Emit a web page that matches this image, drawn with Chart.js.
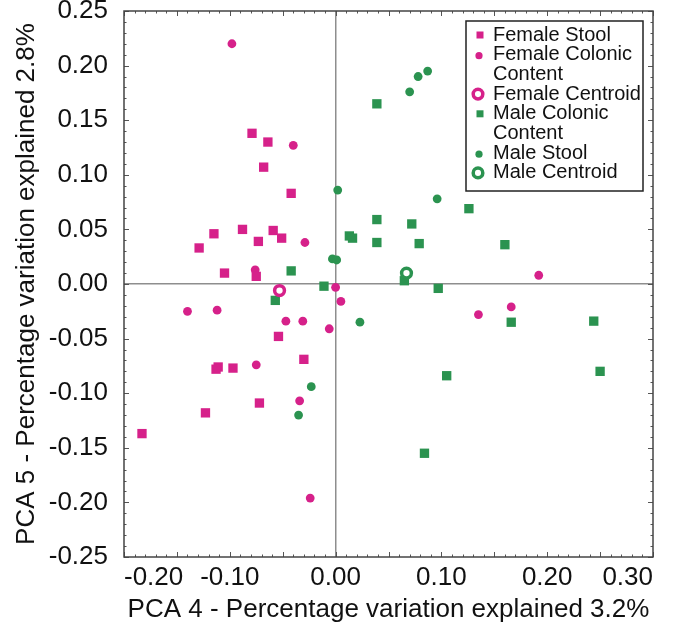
<!DOCTYPE html>
<html>
<head>
<meta charset="utf-8">
<title>PCA 4 vs PCA 5</title>
<script src="https://cdn.jsdelivr.net/npm/chart.js@4.4.1/dist/chart.umd.min.js"></script>
<style>
  body { margin: 0; background: #fff; }
  canvas { display: block; }
</style>
</head>
<body>
<canvas id="pcaChart" width="684" height="637"></canvas>
<script>
// Points, [PCA 4, PCA 5]
const femaleStool = [
  [-0.079, 0.138], [-0.064, 0.130], [-0.068, 0.107], [-0.042, 0.083],
  [-0.088, 0.050], [-0.115, 0.046], [-0.059, 0.049], [-0.051, 0.042],
  [-0.073, 0.039], [-0.129, 0.033], [-0.105, 0.010], [-0.075, 0.007],
  [-0.054, -0.048], [-0.030, -0.069], [-0.111, -0.076], [-0.113, -0.078],
  [-0.097, -0.077], [-0.072, -0.109], [-0.123, -0.118], [-0.183, -0.137]
];
const femaleColonic = [
  [-0.098, 0.220], [-0.040, 0.127], [-0.029, 0.038], [-0.076, 0.013],
  [0.000, -0.003], [0.005, -0.016], [-0.140, -0.025], [-0.112, -0.024],
  [-0.047, -0.034], [-0.031, -0.034], [-0.006, -0.041], [-0.075, -0.074],
  [-0.034, -0.107], [-0.024, -0.196], [0.192, 0.008], [0.135, -0.028],
  [0.166, -0.021]
];
const femaleCentroid = [[-0.053, -0.006]];
const maleColonic = [
  [0.039, 0.165], [0.126, 0.069], [0.039, 0.059], [0.072, 0.055],
  [0.013, 0.044], [0.016, 0.042], [0.039, 0.038], [0.079, 0.037],
  [0.160, 0.036], [0.065, 0.003], [0.097, -0.004], [-0.042, 0.012],
  [-0.011, -0.002], [-0.057, -0.015], [0.166, -0.035], [0.244, -0.034],
  [0.250, -0.080], [0.105, -0.084], [0.084, -0.155]
];
const maleStool = [
  [0.087, 0.195], [0.078, 0.190], [0.070, 0.176], [0.002, 0.086],
  [0.096, 0.078], [-0.003, 0.023], [0.001, 0.022], [0.023, -0.035],
  [-0.023, -0.094], [-0.035, -0.120]
];
const maleCentroid = [[0.067, 0.010]];

const xTicks = [-0.20, -0.10, 0.00, 0.10, 0.20, 0.30];
const yTicks = [-0.25, -0.20, -0.15, -0.10, -0.05, 0.00, 0.05, 0.10, 0.15, 0.20, 0.25];

const MAGENTA = '#d6218a';
const GREEN = '#2b9350';
const FONT = "'Liberation Sans', Arial, sans-serif";

function pts(arr) {
    return arr.map(p => ({ x: p[0], y: p[1] }));
}

function squares(label, arr, color) {
    return { label: label, data: pts(arr), pointStyle: 'rect', pointRadius: 6.6,
        backgroundColor: color, borderColor: color, borderWidth: 0, order: 2 };
}
function dots(label, arr, color) {
    return { label: label, data: pts(arr), pointStyle: 'circle', pointRadius: 4.4,
        backgroundColor: color, borderColor: color, borderWidth: 0, order: 2 };
}
function ring(label, arr, color) {
    return { label: label, data: pts(arr), pointStyle: 'circle', pointRadius: 4.9,
        backgroundColor: '#fff', borderColor: color, borderWidth: 3.5, order: 0 };
}

// frame plus small inward tick marks on all four sides
const framePlugin = {
    id: 'frame',
    afterDatasetsDraw(chart) {
        const { ctx, chartArea: a, scales: { x, y } } = chart;
        ctx.save();
        ctx.strokeStyle = '#555';
        ctx.lineWidth = 1;
        ctx.beginPath();
        for (let i = -20; i <= 30; i++) {
            const px = Math.round(x.getPixelForValue(i / 100)) + 0.5;
            const len = i % 5 === 0 ? 5 : 2.5;
            ctx.moveTo(px, a.bottom); ctx.lineTo(px, a.bottom - len);
            ctx.moveTo(px, a.top); ctx.lineTo(px, a.top + len);
        }
        for (let i = -25; i <= 25; i++) {
            const py = Math.round(y.getPixelForValue(i / 100)) + 0.5;
            const len = i % 5 === 0 ? 5 : 2.5;
            ctx.moveTo(a.left, py); ctx.lineTo(a.left + len, py);
            ctx.moveTo(a.right, py); ctx.lineTo(a.right - len, py);
        }
        ctx.stroke();
        ctx.strokeStyle = '#444';
        ctx.lineWidth = 1.5;
        ctx.strokeRect(a.left, a.top, a.right - a.left, a.bottom - a.top);
        ctx.restore();
    }
};

// boxed legend in the upper right of the plot
const legendPlugin = {
    id: 'boxLegend',
    afterDraw(chart) {
        const ctx = chart.ctx;
        const box = { left: 466, top: 21, right: 643, bottom: 191 };
        ctx.save();
        ctx.fillStyle = '#fff';
        ctx.fillRect(box.left, box.top, box.right - box.left, box.bottom - box.top);
        ctx.strokeStyle = '#222';
        ctx.lineWidth = 1.5;
        ctx.strokeRect(box.left, box.top, box.right - box.left, box.bottom - box.top);

        ctx.font = '20px ' + FONT;
        ctx.textBaseline = 'middle';
        ctx.textAlign = 'left';
        let line = 0;
        const lineY = n => 35 + n * 19.7;
        chart.data.datasets.forEach(ds => {
            const y = lineY(line);
            const mx = 480;
            if (ds.pointStyle === 'rect') {
                ctx.fillStyle = ds.backgroundColor;
                ctx.fillRect(mx - 3.5, y - 3.5, 7, 7);
            } else if (ds.backgroundColor === '#fff') {
                ctx.beginPath();
                ctx.arc(mx - 2, y, 4.8, 0, Math.PI * 2);
                ctx.strokeStyle = ds.borderColor;
                ctx.lineWidth = 3.5;
                ctx.stroke();
            } else {
                ctx.beginPath();
                ctx.arc(mx - 1, y + 1, 3.6, 0, Math.PI * 2);
                ctx.fillStyle = ds.backgroundColor;
                ctx.fill();
            }
            ctx.fillStyle = '#111';
            const parts = ds.label.replace(' Content', '\nContent').split('\n');
            parts.forEach(t => {
                ctx.fillText(t, 493, lineY(line));
                line++;
            });
        });
        ctx.restore();
    }
};

const ctx = document.getElementById('pcaChart').getContext('2d');
const pcaChart = new Chart(ctx, {
    type: 'scatter',
    data: {
        datasets: [
            squares('Female Stool', femaleStool, MAGENTA),
            dots('Female Colonic Content', femaleColonic, MAGENTA),
            ring('Female Centroid', femaleCentroid, MAGENTA),
            squares('Male Colonic Content', maleColonic, GREEN),
            dots('Male Stool', maleStool, GREEN),
            ring('Male Centroid', maleCentroid, GREEN)
        ]
    },
    options: {
        responsive: false,
        animation: false,
        devicePixelRatio: 1,
        layout: { padding: { top: 11, right: 31, left: 0, bottom: 0 } },
        plugins: {
            legend: { display: false },
            tooltip: { enabled: false }
        },
        scales: {
            x: {
                type: 'linear',
                min: -0.20,
                max: 0.30,
                afterBuildTicks: s => { s.ticks = xTicks.map(v => ({ value: v })); },
                afterFit: s => { s.height = 80; s.paddingLeft = 0; s.paddingRight = 0; },
                border: { display: false },
                grid: {
                    drawTicks: false,
                    lineWidth: 1.5,
                    color: c => (c.tick && Math.abs(c.tick.value) < 1e-9) ? '#8e8e8e' : 'rgba(0,0,0,0)'
                },
                ticks: {
                    align: 'inner',
                    padding: 5,
                    color: '#111',
                    font: { family: FONT, size: 26 },
                    callback: v => v.toFixed(2)
                },
                title: {
                    display: true,
                    text: 'PCA 4 - Percentage variation explained 3.2%',
                    color: '#111',
                    font: { family: FONT, size: 26 },
                    padding: { top: 0, bottom: 12 }
                }
            },
            y: {
                type: 'linear',
                min: -0.25,
                max: 0.25,
                afterBuildTicks: s => { s.ticks = yTicks.map(v => ({ value: v })); },
                afterFit: s => { s.width = 124; s.paddingTop = 0; s.paddingBottom = 0; },
                border: { display: false },
                grid: {
                    drawTicks: false,
                    lineWidth: 1.5,
                    color: c => (c.tick && Math.abs(c.tick.value) < 1e-9) ? '#8e8e8e' : 'rgba(0,0,0,0)'
                },
                ticks: {
                    padding: 16,
                    color: '#111',
                    font: { family: FONT, size: 26 },
                    callback: v => v.toFixed(2)
                },
                title: {
                    display: true,
                    text: 'PCA 5 - Percentage variation explained 2.8%',
                    color: '#111',
                    font: { family: FONT, size: 26 },
                    padding: { top: 11, bottom: 0 }
                }
            }
        }
    },
    plugins: [framePlugin, legendPlugin]
});
</script>
</body>
</html>
